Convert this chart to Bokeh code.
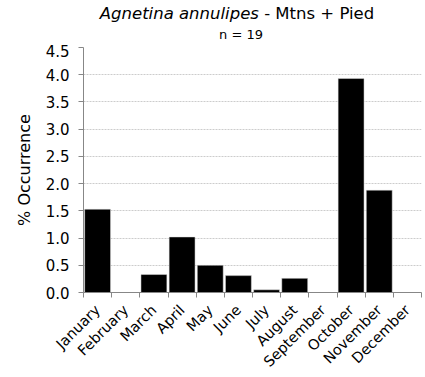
import math
from bokeh.plotting import figure
from bokeh.models import (ColumnDataSource, Range1d, FixedTicker, LinearAxis,
                          Grid, Div, PrintfTickFormatter)
from bokeh.layouts import column
from bokeh.embed import file_html
from bokeh.resources import INLINE

months = ["January", "February", "March", "April", "May", "June", "July",
          "August", "September", "October", "November", "December"]
occurrence = [1.53, 0.0, 0.33, 1.02, 0.50, 0.31, 0.05, 0.26, 0.0, 3.93, 1.88, 0.0]
y_ticks = [0.0, 0.5, 1.0, 1.5, 2.0, 2.5, 3.0, 3.5, 4.0, 4.5]
title_species = "Agnetina annulipes"
title_rest = " - Mtns + Pied"
subtitle = "n = 19"
y_label = "% Occurrence"

FONT = "DejaVu Sans"
AXIS_COLOR = "#878787"

centers = [i + 0.5 for i in range(len(months))]
bounds = [float(i) for i in range(len(months) + 1)]

src = ColumnDataSource(dict(x=centers, top=occurrence, month=months))

p = figure(output_backend="svg", toolbar_location=None,
           frame_width=338, frame_height=245,
           min_border_left=83, min_border_right=4, min_border_top=3,
           min_border_bottom=85,
           x_range=Range1d(0, len(months)), y_range=Range1d(0, 4.5),
           x_axis_type=None, y_axis_type=None)
p.outline_line_color = None
p.background_fill_color = "white"
p.border_fill_color = "white"

p.add_layout(Grid(dimension=1, ticker=FixedTicker(ticks=y_ticks),
                  grid_line_color="#cccccc", grid_line_dash="2 1",
                  grid_line_width=1))

p.vbar(x="x", top="top", width=0.92, source=src, fill_color="black",
       line_color="#e0e0e0", line_width=0.5)

# y axis
yax = LinearAxis(ticker=FixedTicker(ticks=y_ticks),
                 formatter=PrintfTickFormatter(format="%.1f"))
yax.axis_line_color = AXIS_COLOR
yax.major_tick_line_color = AXIS_COLOR
yax.major_tick_in = 0
yax.major_tick_out = 5
yax.minor_tick_line_color = None
yax.major_label_text_font = FONT
yax.major_label_text_font_size = "15px"
yax.major_label_text_color = "black"
yax.axis_label = y_label
yax.axis_label_text_font = FONT
yax.axis_label_text_font_size = "16px"
yax.axis_label_text_font_style = "normal"
yax.axis_label_text_color = "black"
yax.axis_label_standoff = 9
yax.major_label_standoff = 9
p.add_layout(yax, "left")

# x axis: labels at centers, ticks at category boundaries
xax = LinearAxis(ticker=FixedTicker(ticks=centers, minor_ticks=bounds))
xax.major_label_overrides = {c: m for c, m in zip(centers, months)}
xax.major_label_orientation = math.pi / 4
xax.axis_line_color = AXIS_COLOR
xax.major_tick_line_color = None
xax.minor_tick_line_color = AXIS_COLOR
xax.minor_tick_in = 0
xax.minor_tick_out = 5
xax.major_label_text_font = FONT
xax.major_label_text_font_size = "14.5px"
xax.major_label_text_color = "black"
xax.major_label_standoff = 9
p.add_layout(xax, "below")

title_html = (
    f'<div style="font-family:\'{FONT}\';color:black;width:425px;">'
    f'<div style="font-size:16.5px;line-height:20px;padding-top:4px;'
    f'padding-left:49px;text-align:center;white-space:nowrap;">'
    f'<i>{title_species}</i>{title_rest}</div>'
    f'<div style="font-size:13px;line-height:16px;margin-top:3px;'
    f'padding-left:57px;text-align:center;white-space:nowrap;">{subtitle}</div>'
    f'</div>'
)
title_div = Div(text=title_html, width=425, height=44, margin=0)

layout = column(title_div, p, spacing=0)
open("out.html", "w").write(file_html(layout, INLINE))
